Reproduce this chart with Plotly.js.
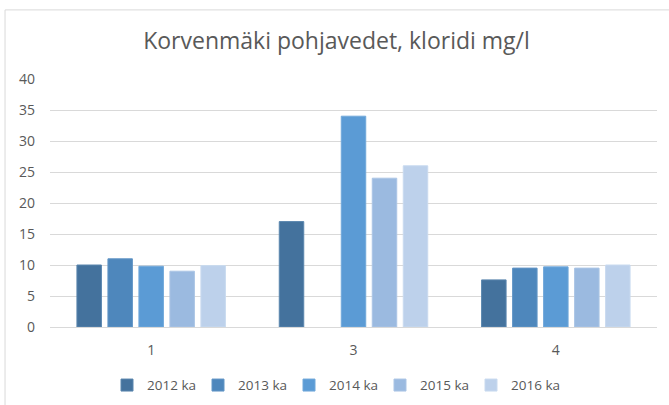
<!DOCTYPE html>
<html>
<head>
<meta charset="utf-8">
<script src="https://cdn.plot.ly/plotly-3.0.1.min.js"></script>
<style>
html,body{margin:0;padding:0;background:#fff;}
#chart{width:669px;height:405px;}
</style>
</head>
<body>
<div id="chart"></div>
<script>
const categories = ['1', '3', '4'];
const seriesNames = ['2012 ka', '2013 ka', '2014 ka', '2015 ka', '2016 ka'];
const v2012 = [10, 17, 7.6];
const v2013 = [11, null, 9.5];
const v2014 = [9.8, 34, 9.7];
const v2015 = [9, 24, 9.5];
const v2016 = [9.9, 26, 10];
const yTicks = [0, 5, 10, 15, 20, 25, 30, 35, 40];

const values = [v2012, v2013, v2014, v2015, v2016];
const colors = ['#44729D', '#4E87BC', '#5B9BD5', '#9BBAE0', '#BDD1EB'];
const lines = ['#5A86AE', '#6396C6', '#71A8DA', '#ABC5E5', '#C9DAEF'];

const traces = values.map((v, i) => ({
  type: 'bar',
  name: seriesNames[i],
  x: categories,
  y: v,
  marker: {color: colors[i], line: {color: lines[i], width: 1}},
  hoverinfo: 'x+y+name'
}));

const font = '"Open Sans", "Liberation Sans", sans-serif';
const layout = {
  width: 669,
  height: 405,
  margin: {l: 50, r: 12, t: 79, b: 78, autoexpand: false},
  paper_bgcolor: '#fff',
  plot_bgcolor: '#fff',
  font: {family: font, color: '#595959', size: 14},
  title: {
    text: 'Korvenmäki pohjavedet, kloridi mg/l',
    font: {family: font, size: 23, color: '#595959'},
    x: 0.503, xref: 'container', xanchor: 'center',
    y: 0.9, yref: 'container', yanchor: 'middle'
  },
  barmode: 'group',
  bargap: 0.234,
  bargroupgap: 0.21,
  xaxis: {
    type: 'category',
    showgrid: false,
    zeroline: false,
    showline: false,
    ticks: '',
    ticklabelstandoff: 13,
    automargin: false,
    tickfont: {family: font, size: 14, color: '#595959'}
  },
  yaxis: {
    range: [0, 40],
    tickvals: yTicks,
    showgrid: true,
    gridcolor: '#D9D9D9',
    gridwidth: 1,
    zeroline: true,
    zerolinecolor: '#D9D9D9',
    zerolinewidth: 1,
    showline: false,
    ticks: '',
    ticklabelstandoff: 14,
    automargin: false,
    tickfont: {family: font, size: 14, color: '#595959'}
  },
  legend: {
    orientation: 'h',
    x: 0.4687, xanchor: 'center',
    y: -0.235, yanchor: 'middle',
    font: {family: font, size: 13.5, color: '#595959'},
    entrywidth: 46,
    traceorder: 'normal'
  },
  shapes: [{
    type: 'rect', xref: 'paper', yref: 'paper',
    x0: -0.0741, x1: 1.2, y0: -0.6, y1: 1.2786,
    line: {color: '#D9D9D9', width: 1},
    fillcolor: 'rgba(0,0,0,0)'
  }]
};

Plotly.newPlot('chart', traces, layout, {displayModeBar: false, staticPlot: true});
</script>
</body>
</html>
